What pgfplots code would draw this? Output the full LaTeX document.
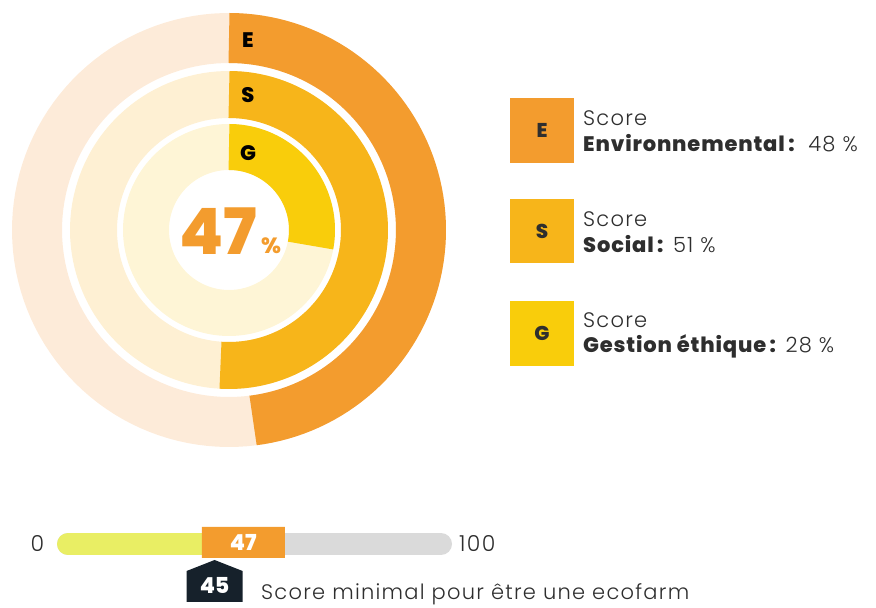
\documentclass[border=0pt]{standalone}
\usepackage{fontspec}
\setmainfont{Poppins}[BoldFont={Poppins ExtraBold}]
\newfontfamily\lightf{Poppins Light}
\newfontfamily\lightsp{Poppins Light}[LetterSpace=6]
\newfontfamily\regsp{Poppins}[LetterSpace=4, BoldFont={Poppins ExtraBold}]
\usepackage{pgfplots}
\pgfplotsset{compat=1.18}
\definecolor{Ecol}{HTML}{F39C2E}
\definecolor{Ebg}{HTML}{FDEBD9}
\definecolor{Scol}{HTML}{F7B51A}
\definecolor{Sbg}{HTML}{FEF0D3}
\definecolor{Gcol}{HTML}{F9CD0B}
\definecolor{Gbg}{HTML}{FEF5D6}
\definecolor{txt}{HTML}{2E2E2E}
\definecolor{barY}{HTML}{E9EE64}
\definecolor{barG}{HTML}{DADADA}
\definecolor{dark}{HTML}{16212B}
\pgfdeclareplotmark{housemark}{%
  \pgfpathmoveto{\pgfqpoint{0bp}{0bp}}%
  \pgfpathlineto{\pgfqpoint{28bp}{-11bp}}%
  \pgfpathlineto{\pgfqpoint{28bp}{-42bp}}%
  \pgfpathlineto{\pgfqpoint{-28bp}{-42bp}}%
  \pgfpathlineto{\pgfqpoint{-28bp}{-11bp}}%
  \pgfpathclose\pgfusepathqfill}
\pgfdeclareplotmark{boxmark}{%
  \pgfsetcornersarced{\pgfqpoint{5bp}{5bp}}%
  \pgfpathmoveto{\pgfqpoint{0bp}{-14bp}}%
  \pgfpathlineto{\pgfqpoint{41.5bp}{-14bp}}%
  \pgfpathlineto{\pgfqpoint{41.5bp}{17bp}}%
  \pgfpathlineto{\pgfqpoint{-41.5bp}{17bp}}%
  \pgfpathlineto{\pgfqpoint{-41.5bp}{-14bp}}%
  \pgfpathclose\pgfusepathqfill}
\begin{document}
\begin{tikzpicture}
\begin{axis}[at={(0,0)}, anchor=south west, scale only axis,
  x=1bp, y=1bp, xmin=0, xmax=876, ymin=0, ymax=608,
  hide axis, clip=false]
\path (axis cs:0,0) rectangle (axis cs:876,608);
% rings: backgrounds
\addplot[draw=Ebg, line width=50bp, line join=round, domain=0:101, samples=140] ({229+192*sin(3.6*x)},{378+192*cos(3.6*x)});
\addplot[draw=Sbg, line width=47bp, line join=round, domain=0:101, samples=140] ({229+135.5*sin(3.6*x)},{378+135.5*cos(3.6*x)});
\addplot[draw=Gbg, line width=46bp, line join=round, domain=0:101, samples=140] ({229+83*sin(3.6*x)},{378+83*cos(3.6*x)});
% rings: scores (E 48, S 51, G 28)
\addplot[draw=Ecol, line width=50bp, line cap=butt, line join=round, domain=0:48, samples=80] ({229+192*sin(3.6*x)},{378+192*cos(3.6*x)});
\addplot[draw=Scol, line width=47bp, line cap=butt, line join=round, domain=0:51, samples=80] ({229+135.5*sin(3.6*x)},{378+135.5*cos(3.6*x)});
\addplot[draw=Gcol, line width=46bp, line cap=butt, line join=round, domain=0:28, samples=50] ({229+83*sin(3.6*x)},{378+83*cos(3.6*x)});
% ring letters
\node[font=\fontsize{21bp}{22bp}\selectfont\bfseries, text=black] at (axis cs:248,568) {E};
\node[font=\fontsize{21bp}{22bp}\selectfont\bfseries, text=black] at (axis cs:248,513) {S};
\node[font=\fontsize{21bp}{22bp}\selectfont\bfseries, text=black] at (axis cs:248,455) {G};
% centre value
\node[anchor=base, font=\fontsize{64bp}{70bp}\selectfont\bfseries, text=Ecol, inner sep=0] at (axis cs:218.5,353) {47};
\node[anchor=base west, font=\fontsize{22bp}{24bp}\selectfont\bfseries, text=Ecol, inner sep=0] at (axis cs:261,354) {\%};
% legend boxes
\fill[Ecol] (axis cs:510,510) rectangle (axis cs:574,445);
\fill[Scol] (axis cs:510,409) rectangle (axis cs:574,345);
\fill[Gcol] (axis cs:510,307) rectangle (axis cs:574,242);
\node[font=\fontsize{20bp}{22bp}\selectfont\bfseries, text=txt] at (axis cs:542,477.5) {E};
\node[font=\fontsize{20bp}{22bp}\selectfont\bfseries, text=txt] at (axis cs:542,377) {S};
\node[font=\fontsize{20bp}{22bp}\selectfont\bfseries, text=txt] at (axis cs:542,274.5) {G};
\node[anchor=base west, inner sep=0, text=txt, font=\fontsize{21bp}{22bp}\selectfont\lightsp] at (axis cs:583,482) {Score};
\node[anchor=base west, inner sep=0, text=txt, font=\fontsize{21bp}{22bp}\selectfont\regsp] at (axis cs:583,456) {\textbf{Environnemental\,:}\ \ {\lightsp 48 \%}};
\node[anchor=base west, inner sep=0, text=txt, font=\fontsize{21bp}{22bp}\selectfont\lightsp] at (axis cs:583,381) {Score};
\node[anchor=base west, inner sep=0, text=txt, font=\fontsize{21bp}{22bp}\selectfont\regsp] at (axis cs:583,355) {\textbf{Social\,:} {\lightsp 51 \%}};
\node[anchor=base west, inner sep=0, text=txt, font=\fontsize{21bp}{22bp}\selectfont\lightsp] at (axis cs:583,280) {Score};
\node[anchor=base west, inner sep=0, text=txt, font=\fontsize{21bp}{22bp}\selectfont\regsp] at (axis cs:583,255) {\textbf{Gestion éthique\,:} {\lightsp 28 \%}};
% bar labels
\node[anchor=center, text=txt, font=\fontsize{22bp}{22bp}\selectfont\lightsp] at (axis cs:37.5,64) {0};
\node[anchor=west, inner sep=0, text=txt, font=\fontsize{22bp}{22bp}\selectfont\lightsp] at (axis cs:459,64) {100};
\node[anchor=base west, inner sep=0, text=txt, font=\fontsize{21bp}{24bp}\selectfont\lightsp] at (axis cs:261,8) {Score minimal pour être une ecofarm};
\end{axis}
\begin{axis}[at={(68bp,4bp)}, anchor=south west, scale only axis,
  x=3.73bp, y=1bp, xmin=0, xmax=100, ymin=-60, ymax=20,
  hide axis, clip=false]
\addplot[draw=barG, line width=22bp, line cap=round] coordinates {(0,0) (100,0)};
\addplot[draw=barY, line width=22bp, line cap=round] coordinates {(0,0) (47,0)};
\addplot[only marks, mark=boxmark, mark options={fill=Ecol, draw=none},
  nodes near coords={47},
  every node near coord/.style={anchor=center, yshift=1.5bp, text=white, font=\fontsize{22bp}{24bp}\selectfont\bfseries}]
  coordinates {(47,0)};
\addplot[only marks, mark=housemark, mark options={fill=dark, draw=none},
  nodes near coords={45},
  every node near coord/.style={anchor=center, yshift=-25bp, text=white, font=\fontsize{22bp}{24bp}\selectfont\bfseries}]
  coordinates {(39.3,-16)};
\end{axis}
\end{tikzpicture}
\end{document}
